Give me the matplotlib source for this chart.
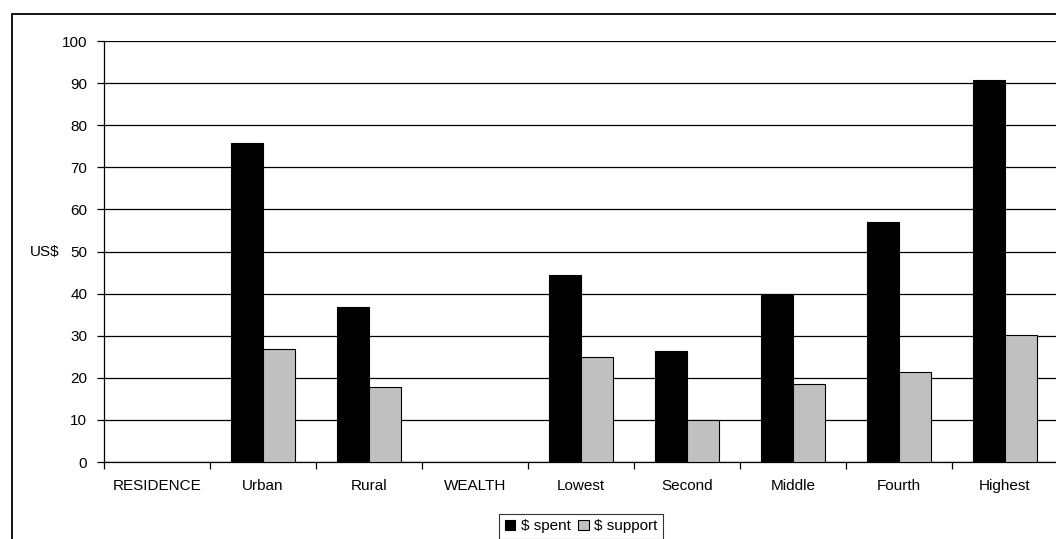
import numpy as np
import matplotlib
matplotlib.use("Agg")
import matplotlib.pyplot as plt
from matplotlib.patches import Rectangle

plt.rcParams["font.family"] = ["Liberation Sans", "DejaVu Sans"]

# Spending per group (US$); header rows have no bars
categories = ["RESIDENCE", "Urban", "Rural", "WEALTH", "Lowest",
              "Second", "Middle", "Fourth", "Highest"]
spent = [np.nan, 75.8, 36.9, np.nan, 44.4, 26.4, 39.7, 57.1, 90.7]
support = [np.nan, 26.8, 17.7, np.nan, 25.0, 10.0, 18.6, 21.4, 30.2]
y_ticks = list(range(0, 101, 10))

W, H = 1056, 539
FS = 11
fig = plt.figure(figsize=(W / 100, H / 100), dpi=100)
ax = fig.add_axes([104 / W, 77 / H, 954 / W, 421 / H])

x = np.arange(len(categories))
bw = 0.3
ax.bar(x - bw / 2, spent, bw, color="black", edgecolor="black", lw=0.8,
       label="$ spent", zorder=3)
ax.bar(x + bw / 2, support, bw, color="#c0c0c0", edgecolor="black", lw=0.8,
       label="$ support", zorder=3)

ax.set_xlim(-0.5, len(categories) - 0.5)
ax.set_ylim(0, 100)
ax.set_yticks(y_ticks)
ax.yaxis.grid(True, color="black", lw=0.9, zorder=0)
ax.set_axisbelow(True)

# category labels centred, ticks on the boundaries
ax.set_xticks(x)
ax.set_xticklabels(categories, fontsize=FS)
ax.tick_params(axis="x", length=0, pad=12)
ax.set_xticks(np.arange(len(categories) + 1) - 0.5, minor=True)
ax.tick_params(axis="x", which="minor", length=5, width=0.9, direction="out")
ax.tick_params(axis="y", length=5, width=0.9, labelsize=FS, pad=7)

for side in ["top", "right"]:
    ax.spines[side].set_visible(False)
ax.spines["left"].set_linewidth(0.9)
ax.spines["bottom"].set_linewidth(0.9)

fig.text(45 / W, 1 - 252 / H, "US$", fontsize=FS, ha="center", va="center")

# chart border
fig.patches.append(Rectangle((12 / W, -0.2), 1.5, 1.2 - 14 / H,
                             transform=fig.transFigure, fill=False,
                             edgecolor="black", lw=1.3, clip_on=False))

leg = fig.legend(loc="upper center", bbox_to_anchor=(581 / W, 1 - 514 / H),
                 ncol=2, fontsize=FS, frameon=True, fancybox=False,
                 edgecolor="black", handlelength=0.7, handleheight=0.7,
                 handletextpad=0.35, columnspacing=0.5, borderpad=0.35,
                 borderaxespad=0)
leg.get_frame().set_linewidth(0.8)

fig.savefig("out.png", dpi=100)
